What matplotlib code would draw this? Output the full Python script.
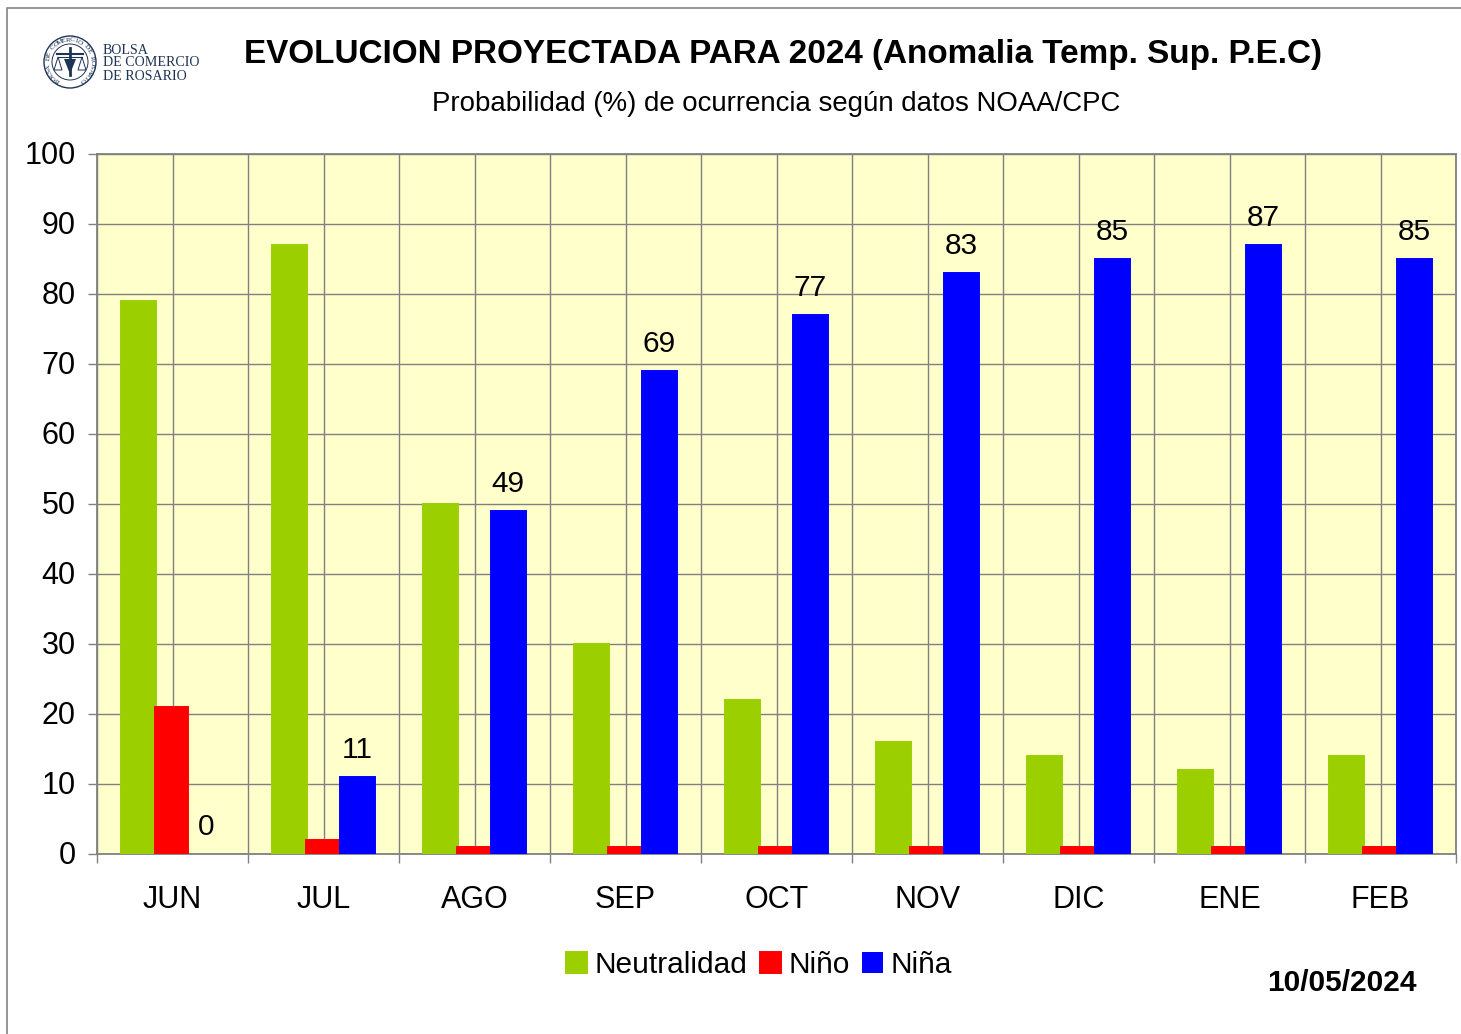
import numpy as np
import matplotlib
matplotlib.use('Agg')
import matplotlib.pyplot as plt
from matplotlib.patches import Circle, Polygon
from matplotlib.transforms import ScaledTranslation

plt.rcParams['font.family'] = ['Liberation Sans', 'DejaVu Sans']

months = ['JUN', 'JUL', 'AGO', 'SEP', 'OCT', 'NOV', 'DIC', 'ENE', 'FEB']
neutral = [79, 87, 50, 30, 22, 16, 14, 12, 14]
nino = [21, 2, 1, 1, 1, 1, 1, 1, 1]
nina = [0, 11, 49, 69, 77, 83, 85, 87, 85]

W, H = 1461, 1034
GREY = '#808080'
NAVY = '#1f3557'

fig = plt.figure(figsize=(W / 100, H / 100), dpi=100, facecolor='white')

# page overlay in pixel coordinates, for the frame and the logo
page = fig.add_axes([0, 0, 1, 1], zorder=3)
page.set_xlim(0, W)
page.set_ylim(H, 0)
page.axis('off')

ax = fig.add_axes([97 / W, 1 - 854 / H, (1456 - 97) / W, (854 - 154) / H], facecolor='#FFFFCC')

x = np.arange(len(months))
bar_w = 0.232
edge = 1.4
ax.bar(x - 0.225, neutral, bar_w, color='#9BCF00', edgecolor='#9BCF00', lw=edge, label='Neutralidad', zorder=3)
ax.bar(x - 0.006, nino, 0.215, color='#FF0000', edgecolor='#FF0000', lw=edge, label='Niño', zorder=4)
# no edge on a zero bar, it would show as a line on the axis
bars = ax.bar(x + 0.222, nina, bar_w, color='#0000FF', edgecolor='#0000FF',
              lw=[edge if v > 0 else 0 for v in nina], label='Niña', zorder=5)

for b, v in zip(bars, nina):
    ax.annotate(str(v), (b.get_x() + b.get_width() / 2, v), xytext=(0, 13), textcoords='offset pixels',
                ha='center', va='bottom', fontsize=21.5, color='black', zorder=6)

ax.set_xlim(-0.5, len(months) - 0.5)
ax.set_ylim(0, 100)
ax.set_yticks(range(0, 101, 10))
ax.set_xticks(x)
ax.set_xticklabels(months)
ax.set_xticks(np.arange(-0.5, len(months)), minor=True)
ax.grid(True, which='major', color='#808080', lw=1, zorder=1)
ax.grid(True, which='minor', axis='x', color='#808080', lw=1, zorder=1)
ax.set_axisbelow(True)
ax.tick_params(axis='y', labelsize=22, length=6.5, width=1, color=GREY, pad=9)
ax.tick_params(axis='x', which='major', labelsize=22, length=0, pad=22)
ax.tick_params(axis='x', which='minor', length=6.5, width=1, color=GREY)
up = ScaledTranslation(0, 2 / 100, fig.dpi_scale_trans)
for lab in ax.get_yticklabels():
    lab.set_transform(lab.get_transform() + up)
for s in ax.spines.values():
    s.set_color(GREY)
    s.set_linewidth(1.3)

leg = fig.legend(loc='center', bbox_to_anchor=(759 / W, 1 - 965 / H), ncol=3, frameon=False, fontsize=21.5,
                 handlelength=0.7, handleheight=0.7, handletextpad=0.25, columnspacing=0.42)

page.text(782.5, 54, 'EVOLUCION PROYECTADA PARA 2024 (Anomalia Temp. Sup. P.E.C)', ha='center', va='center',
          fontsize=23.95, fontweight='bold', color='black')
page.text(776, 104, 'Probabilidad (%) de ocurrencia según datos NOAA/CPC', ha='center', va='center',
          fontsize=19.9, color='black')
page.text(1342, 983, '10/05/2024', ha='center', va='center', fontsize=21.5, fontweight='bold', color='black')

# page frame
page.plot([7, 7, W], [H, 8, 8], color='#8c8c8c', lw=1.3, clip_on=False)

# logo
cx, cy, r = 70, 62, 26
page.add_patch(Circle((cx, cy), r, fc='white', ec=NAVY, lw=1))
page.add_patch(Circle((cx, cy), r - 8, fc='none', ec=NAVY, lw=0.7))
ring = 'BOLSA DE COMERCIO DE ROSARIO'
for ch, ang in zip(ring, np.linspace(235, -55, len(ring))):
    a = np.deg2rad(ang)
    page.text(cx + (r - 4) * np.cos(a), cy - (r - 4) * np.sin(a), ch, fontsize=5.2, color=NAVY, rotation=ang - 90,
              ha='center', va='center', rotation_mode='anchor', fontfamily='Liberation Serif')
page.plot([cx - 13, cx + 13], [cy - 8, cy - 8], color=NAVY, lw=1.5)
page.plot([cx, cx], [cy - 14, cy + 13], color=NAVY, lw=2)
page.plot([cx - 12, cx + 12], [cy - 5, cy - 5], color=NAVY, lw=0.8)
page.add_patch(Polygon([[cx - 12, cy - 5], [cx - 16, cy + 8], [cx - 8, cy + 8]], fc='none', ec=NAVY, lw=0.7))
page.add_patch(Polygon([[cx + 12, cy - 5], [cx + 8, cy + 8], [cx + 16, cy + 8]], fc='none', ec=NAVY, lw=0.7))
page.add_patch(Polygon([[cx - 6, cy - 3], [cx + 6, cy - 3], [cx, cy + 12]], fc=NAVY, ec='none'))
for label, yy in zip(['BOLSA', 'DE COMERCIO', 'DE ROSARIO'], [51, 63, 76]):
    page.text(103, yy, label, fontsize=10.1, fontfamily='Liberation Serif', color=NAVY, ha='left', va='center')

fig.savefig('out.png', dpi=100)
